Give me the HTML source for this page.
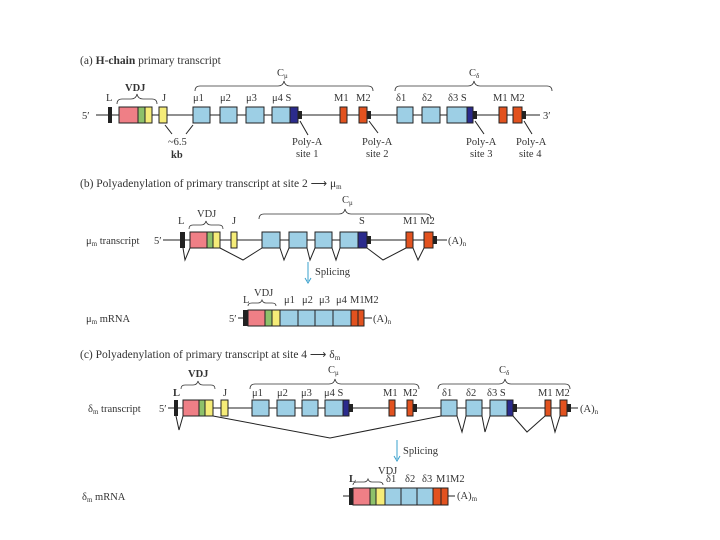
<!DOCTYPE html>
<html><head><meta charset="utf-8"><style>
html,body{margin:0;padding:0;background:#fff;width:720px;height:540px;overflow:hidden}
svg text{font-family:"Liberation Serif",serif;font-size:10.5px;fill:#333}
.b{stroke:#222;stroke-width:1}
.p{fill:#ef7f86}.g{fill:#8dc16a}.y{fill:#f5ec78}.c{fill:#9dcfe5}.n{fill:#2b2b8c}.o{fill:#e2521f}.k{fill:#222}
.ln{stroke:#222;stroke-width:1;fill:none}
.br{stroke:#333;stroke-width:0.8;fill:none}
</style></head><body>
<svg width="720" height="540" xmlns="http://www.w3.org/2000/svg">
<!-- (a) -->
<text x="80" y="64" style="font-size:11.5px">(a) <tspan font-weight="bold">H-chain</tspan> primary transcript</text>
<line class="ln" x1="96" y1="115" x2="540" y2="115"/>
<text x="82" y="119">5′</text><text x="543" y="119">3′</text>
<rect class="k" x="108" y="107" width="4" height="16"/>
<g class="b"><rect class="p" x="119" y="107" width="19" height="16"/><rect class="g" x="138" y="107" width="7" height="16"/><rect class="y" x="145" y="107" width="7" height="16"/>
<rect class="y" x="159" y="107" width="8" height="16"/>
<rect class="c" x="193" y="107" width="17" height="16"/><rect class="c" x="220" y="107" width="17" height="16"/><rect class="c" x="246" y="107" width="18" height="16"/><rect class="c" x="272" y="107" width="18" height="16"/><rect class="n" x="290" y="107" width="8" height="16"/>
<rect class="o" x="340" y="107" width="7" height="16"/><rect class="o" x="359" y="107" width="8" height="16"/>
<rect class="c" x="397" y="107" width="16" height="16"/><rect class="c" x="422" y="107" width="18" height="16"/><rect class="c" x="447" y="107" width="20" height="16"/><rect class="n" x="467" y="107" width="6" height="16"/>
<rect class="o" x="499" y="107" width="8" height="16"/><rect class="o" x="513" y="107" width="9" height="16"/></g>
<rect class="k" x="298" y="111" width="4" height="8"/><rect class="k" x="367" y="111" width="4" height="8"/><rect class="k" x="473" y="111" width="4" height="8"/><rect class="k" x="522" y="111" width="4" height="8"/>
<text x="106" y="101">L</text><text x="162" y="101">J</text>
<text x="193" y="101">μ1</text><text x="220" y="101">μ2</text><text x="246" y="101">μ3</text><text x="272" y="101">μ4 S</text>
<text x="334" y="101">M1</text><text x="356" y="101">M2</text>
<text x="396" y="101">δ1</text><text x="422" y="101">δ2</text><text x="448" y="101">δ3 S</text><text x="493" y="101">M1 M2</text>
<path class="br" d="M117 104 q0-5 5-5 h9 q5 0 6-5 q1 5 6 5 h9 q5 0 5 5"/><text x="125" y="91" font-weight="bold">VDJ</text>
<path class="br" d="M195 91 q0-5 5-5 h78 q5 0 6-5 q1 5 6 5 h78 q5 0 5 5"/><text x="277" y="76">C<tspan font-size="7" dy="2">μ</tspan></text>
<path class="br" d="M395 91 q0-5 5-5 h68 q5 0 6-5 q1 5 6 5 h67 q5 0 5 5"/><text x="469" y="76">C<tspan font-size="7" dy="2">δ</tspan></text>
<line class="ln" x1="165" y1="125" x2="172" y2="134"/><line class="ln" x1="193" y1="125" x2="186" y2="134"/>
<text x="168" y="145">~6.5</text><text x="171" y="158" font-weight="bold">kb</text>
<line class="ln" x1="300" y1="121" x2="308" y2="135"/><text x="292" y="145">Poly-A</text><text x="296" y="157">site 1</text>
<line class="ln" x1="369" y1="121" x2="378" y2="133"/><text x="362" y="145">Poly-A</text><text x="366" y="157">site 2</text>
<line class="ln" x1="475" y1="121" x2="484" y2="134"/><text x="466" y="145">Poly-A</text><text x="470" y="157">site 3</text>
<line class="ln" x1="524" y1="121" x2="532" y2="134"/><text x="516" y="145">Poly-A</text><text x="519" y="157">site 4</text>
<!-- (b) -->
<text x="80" y="187" style="font-size:11.5px">(b) Polyadenylation of primary transcript at site 2 ⟶  μ<tspan font-size="7" dy="2">m</tspan></text>
<text x="86" y="244">μ<tspan font-size="7" dy="2">m</tspan><tspan dy="-2"> transcript</tspan></text>
<text x="154" y="244">5′</text>
<line class="ln" x1="163" y1="240" x2="447" y2="240"/>
<rect class="k" x="180" y="232" width="5" height="16"/>
<g class="b"><rect class="p" x="190" y="232" width="17" height="16"/><rect class="g" x="207" y="232" width="6" height="16"/><rect class="y" x="213" y="232" width="7" height="16"/>
<rect class="y" x="231" y="232" width="6" height="16"/>
<rect class="c" x="262" y="232" width="18" height="16"/><rect class="c" x="289" y="232" width="18" height="16"/><rect class="c" x="315" y="232" width="17" height="16"/><rect class="c" x="340" y="232" width="18" height="16"/><rect class="n" x="358" y="232" width="9" height="16"/>
<rect class="o" x="406" y="232" width="7" height="16"/><rect class="o" x="424" y="232" width="9" height="16"/></g>
<rect class="k" x="367" y="236" width="4" height="8"/><rect class="k" x="433" y="236" width="4" height="8"/>
<text x="448" y="244">(A)<tspan font-size="7" dy="2">n</tspan></text>
<polyline class="ln" points="183,248 185,260 190,248"/>
<polyline class="ln" points="220,248 243,260 262,248"/>
<polyline class="ln" points="280,248 284,260 289,248"/>
<polyline class="ln" points="307,248 310,260 315,248"/>
<polyline class="ln" points="332,248 336,260 340,248"/>
<polyline class="ln" points="367,248 383,260 406,248"/>
<polyline class="ln" points="413,248 418,260 424,248"/>
<text x="178" y="224">L</text><text x="232" y="224">J</text><text x="359" y="224">S</text><text x="403" y="224">M1 M2</text>
<path class="br" d="M189 229 q0-4 4-4 h8 q4 0 5-4 q1 4 5 4 h8 q4 0 4 4"/><text x="197" y="217">VDJ</text>
<path class="br" d="M259 219 q0-5 5-5 h75 q5 0 6-5 q1 5 6 5 h75 q5 0 5 5"/><text x="342" y="203">C<tspan font-size="7" dy="2">μ</tspan></text>
<line x1="308" y1="262" x2="308" y2="281" stroke="#3aa0cc" stroke-width="1"/><path d="M305 278 L308 283 L311 278" fill="none" stroke="#3aa0cc"/>
<text x="315" y="275">Splicing</text>
<text x="86" y="322">μ<tspan font-size="7" dy="2">m</tspan><tspan dy="-2"> mRNA</tspan></text>
<text x="229" y="322">5′</text>
<line class="ln" x1="238" y1="318" x2="372" y2="318"/>
<rect class="k" x="243" y="310" width="5" height="16"/>
<g class="b"><rect class="p" x="248" y="310" width="17" height="16"/><rect class="g" x="265" y="310" width="7" height="16"/><rect class="y" x="272" y="310" width="8" height="16"/>
<rect class="c" x="280" y="310" width="18" height="16"/><rect class="c" x="298" y="310" width="17" height="16"/><rect class="c" x="315" y="310" width="18" height="16"/><rect class="c" x="333" y="310" width="18" height="16"/>
<rect class="o" x="351" y="310" width="7" height="16"/><rect class="o" x="358" y="310" width="6" height="16"/></g>
<text x="373" y="322">(A)<tspan font-size="7" dy="2">n</tspan></text>
<text x="243" y="303">L</text><path class="br" d="M248 306 q0-3 4-3 h6 q3 0 4-3 q1 3 4 3 h6 q4 0 4 3"/><text x="254" y="296">VDJ</text>
<text x="284" y="303">μ1</text><text x="302" y="303">μ2</text><text x="319" y="303">μ3</text><text x="336" y="303">μ4</text><text x="350" y="303">M1</text><text x="364" y="303">M2</text>
<!-- (c) -->
<text x="80" y="358" style="font-size:11.5px">(c) Polyadenylation of primary transcript at site 4 ⟶  δ<tspan font-size="7" dy="2">m</tspan></text>
<text x="88" y="412">δ<tspan font-size="7" dy="2">m</tspan><tspan dy="-2"> transcript</tspan></text>
<text x="159" y="412">5′</text>
<line class="ln" x1="168" y1="408" x2="578" y2="408"/>
<rect class="k" x="174" y="400" width="4" height="16"/>
<g class="b"><rect class="p" x="183" y="400" width="16" height="16"/><rect class="g" x="199" y="400" width="6" height="16"/><rect class="y" x="205" y="400" width="8" height="16"/>
<rect class="y" x="221" y="400" width="7" height="16"/>
<rect class="c" x="252" y="400" width="17" height="16"/><rect class="c" x="277" y="400" width="18" height="16"/><rect class="c" x="302" y="400" width="16" height="16"/><rect class="c" x="325" y="400" width="18" height="16"/><rect class="n" x="343" y="400" width="6" height="16"/>
<rect class="o" x="389" y="400" width="6" height="16"/><rect class="o" x="407" y="400" width="6" height="16"/>
<rect class="c" x="441" y="400" width="16" height="16"/><rect class="c" x="466" y="400" width="16" height="16"/><rect class="c" x="490" y="400" width="17" height="16"/><rect class="n" x="507" y="400" width="6" height="16"/>
<rect class="o" x="545" y="400" width="6" height="16"/><rect class="o" x="560" y="400" width="7" height="16"/></g>
<rect class="k" x="349" y="404" width="4" height="8"/><rect class="k" x="413" y="404" width="4" height="8"/><rect class="k" x="513" y="404" width="4" height="8"/><rect class="k" x="567" y="404" width="4" height="8"/>
<text x="580" y="412">(A)<tspan font-size="7" dy="2">n</tspan></text>
<polyline class="ln" points="176,416 179,430 183,416"/>
<polyline class="ln" points="213,416 330,438 441,416"/>
<polyline class="ln" points="457,416 462,432 466,416"/>
<polyline class="ln" points="482,416 485,432 490,416"/>
<polyline class="ln" points="513,416 527,432 545,416"/>
<polyline class="ln" points="551,416 555,432 560,416"/>
<text x="173" y="396" font-weight="bold">L</text><text x="223" y="396">J</text>
<text x="252" y="396">μ1</text><text x="277" y="396">μ2</text><text x="301" y="396">μ3</text><text x="324" y="396">μ4 S</text>
<text x="383" y="396">M1</text><text x="403" y="396">M2</text>
<text x="442" y="396">δ1</text><text x="466" y="396">δ2</text><text x="487" y="396">δ3 S</text><text x="538" y="396">M1 M2</text>
<path class="br" d="M181 389 q0-4 4-4 h8 q4 0 5-4 q1 4 5 4 h8 q4 0 4 4"/><text x="188" y="377" font-weight="bold">VDJ</text>
<path class="br" d="M250 389 q0-5 5-5 h74 q5 0 6-5 q1 5 6 5 h73 q5 0 5 5"/><text x="328" y="373">C<tspan font-size="7" dy="2">μ</tspan></text>
<path class="br" d="M438 389 q0-5 5-5 h56 q5 0 6-5 q1 5 6 5 h54 q5 0 5 5"/><text x="499" y="373">C<tspan font-size="7" dy="2">δ</tspan></text>
<line x1="397" y1="440" x2="397" y2="459" stroke="#3aa0cc" stroke-width="1"/><path d="M394 456 L397 461 L400 456" fill="none" stroke="#3aa0cc"/>
<text x="403" y="454">Splicing</text>
<text x="82" y="500">δ<tspan font-size="7" dy="2">m</tspan><tspan dy="-2"> mRNA</tspan></text>
<line class="ln" x1="343" y1="496" x2="455" y2="496"/>
<rect class="k" x="349" y="488" width="4" height="17"/>
<g class="b"><rect class="p" x="353" y="488" width="17" height="17"/><rect class="g" x="370" y="488" width="6" height="17"/><rect class="y" x="376" y="488" width="9" height="17"/>
<rect class="c" x="385" y="488" width="16" height="17"/><rect class="c" x="401" y="488" width="16" height="17"/><rect class="c" x="417" y="488" width="16" height="17"/>
<rect class="o" x="433" y="488" width="8" height="17"/><rect class="o" x="441" y="488" width="7" height="17"/></g>
<text x="457" y="499">(A)<tspan font-size="7" dy="2">m</tspan></text>
<text x="349" y="482" font-weight="bold">L</text><path class="br" d="M353 485 q0-3 4-3 h7 q3 0 4-3 q1 3 4 3 h7 q4 0 4 3"/><text x="378" y="474">VDJ</text>
<text x="386" y="482">δ1</text><text x="405" y="482">δ2</text><text x="422" y="482">δ3</text><text x="436" y="482">M1</text><text x="450" y="482">M2</text>
</svg>
</body></html>
